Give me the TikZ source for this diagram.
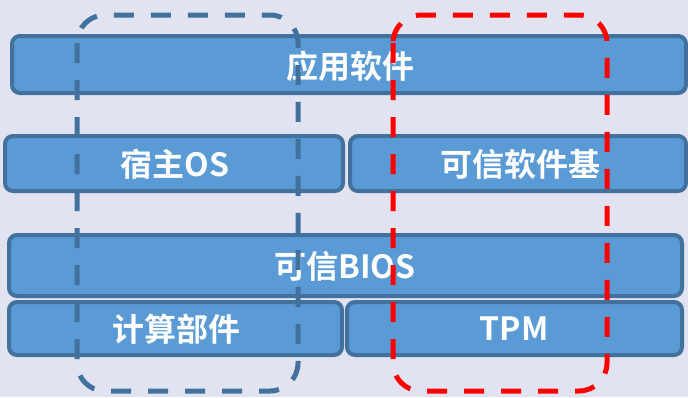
\documentclass[tikz,border=0pt]{standalone}
\usepackage{fontspec}
\newfontfamily\cjkb{Noto Sans CJK SC Bold}
\definecolor{bgc}{HTML}{E1E3F0}
\definecolor{boxfill}{HTML}{5B9BD5}
\definecolor{boxline}{HTML}{41719C}
\definecolor{redline}{HTML}{FF0000}
\tikzset{
  layer/.style={draw=boxline, fill=boxfill, line width=4pt, rounded corners=8pt},
  lbl/.style={text=white, font=\cjkb\fontsize{32}{32}\selectfont, inner sep=0pt, anchor=center},
  bluegroup/.style={draw=boxline, line width=5pt, rounded corners=28pt, dash pattern=on 20pt off 17pt},
  redgroup/.style={draw=redline, line width=5pt, rounded corners=28pt, dash pattern=on 20pt off 17pt}
}
\begin{document}
\begin{tikzpicture}[x=1pt,y=-1pt]
\fill[bgc] (0,0) rectangle (688,397);
\useasboundingbox (0,0) rectangle (688,397);
% layers
\draw[layer] (12,36) rectangle (686,93);
\node[lbl] (app) at (350,66) {应用软件};
\draw[layer] (5,136) rectangle (343,191);
\node[lbl] (os) at (175,164) {宿主OS};
\draw[layer] (350,136) rectangle (686,191);
\node[lbl] (tsb) at (520,164) {可信软件基};
\draw[layer] (9,235) rectangle (682,296);
\node[lbl] (bios) at (345,266) {可信BIOS};
\draw[layer] (9,302) rectangle (342,355);
\node[lbl] (cpu) at (176,329) {计算部件};
\draw[layer] (347,302) rectangle (682,355);
\node[lbl] (tpm) at (514,329) {TPM};
% groups
\draw[bluegroup] (77,15) rectangle (298,391);
\draw[redgroup] (393,15) rectangle (607,391);
\end{tikzpicture}
\end{document}
